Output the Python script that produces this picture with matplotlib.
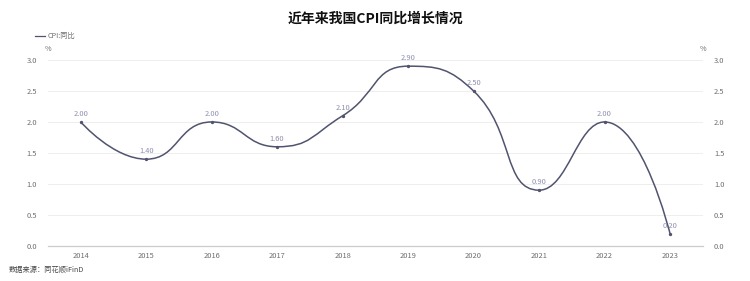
import numpy as np
import matplotlib.pyplot as plt
from matplotlib.path import Path
from matplotlib.patches import PathPatch

plt.rcParams['font.family'] = ['Noto Sans CJK SC', 'DejaVu Sans']

# Data
years = ['2014', '2015', '2016', '2017', '2018', '2019', '2020', '2021', '2022', '2023']
cpi = [2.00, 1.40, 2.00, 1.60, 2.10, 2.90, 2.50, 0.90, 2.00, 0.20]
yticks = [0.0, 0.5, 1.0, 1.5, 2.0, 2.5, 3.0]

lineColor = '#50546e'
labelColor = '#8d90b0'
tickColor = '#6e6e6e'
gridColor = '#eeeeee'


def clamp(v, a, b):
    return np.minimum(np.maximum(v, np.minimum(a, b)), np.maximum(a, b))


def smoothPath(ax, xs, ys, smooth=0.5):
    # Bezier control points in pixel space, constrained like echarts 5 smooth lines
    pts = ax.transData.transform(np.column_stack([xs, ys]))
    n = len(pts)
    cpIn = [pts[0]] * n
    cpOut = [pts[0]] * n
    for i in range(n):
        p = pts[i]
        if i == 0 or i == n - 1:
            cpIn[i] = p
            cpOut[i] = p
            continue
        prev, nxt = pts[i - 1], pts[i + 1]
        v = nxt - prev
        lenPrev = np.hypot(*(p - prev))
        lenNext = np.hypot(*(nxt - p))
        ratio = lenNext / (lenNext + lenPrev)
        c1 = p + v * smooth * ratio
        c1 = clamp(c1, nxt, p)
        c0 = p - (c1 - p) * lenPrev / lenNext
        c0 = clamp(c0, prev, p)
        c1 = p + (p - c0) * lenNext / lenPrev
        cpIn[i] = c0
        cpOut[i] = c1
    verts = [pts[0]]
    codes = [Path.MOVETO]
    for i in range(n - 1):
        verts += [cpOut[i], cpIn[i + 1], pts[i + 1]]
        codes += [Path.CURVE4] * 3
    verts = ax.transData.inverted().transform(np.array(verts))
    return Path(verts, codes)


fig = plt.figure(figsize=(7.5, 2.81), dpi=100)
ax = fig.add_axes([0.064, 0.1246, 0.873, 0.662])

x = np.arange(len(years))
ax.set_xlim(-0.5, len(years) - 0.5)
ax.set_ylim(0, 3.0)

ax.add_patch(PathPatch(smoothPath(ax, x, cpi), facecolor='none', edgecolor=lineColor, linewidth=1.1))
ax.plot(x, cpi, 'o', color=lineColor, markersize=1.4)

for xi, v in zip(x, cpi):
    ax.text(xi, v + 0.06, f'{v:.2f}', ha='center', va='bottom', fontsize=5.4, color=labelColor)

ax.set_yticks(yticks)
ax.set_yticklabels([f'{t:.1f}' for t in yticks])
ax.set_xticks(x)
ax.set_xticklabels(years)
ax.grid(axis='y', color=gridColor, linewidth=0.7)
ax.set_axisbelow(True)

for s in ['top', 'left', 'right']:
    ax.spines[s].set_visible(False)
ax.spines['bottom'].set_color('#cccccc')
ax.spines['bottom'].set_linewidth(0.9)

ax.tick_params(axis='x', length=0, labelsize=5.4, labelcolor=tickColor, pad=4)
ax.tick_params(axis='y', length=0, labelsize=5.4, labelcolor=tickColor, pad=8)

ax2 = ax.twinx()
ax2.set_ylim(0, 3.0)
ax2.set_yticks(yticks)
ax2.set_yticklabels([f'{t:.1f}' for t in yticks])
ax2.tick_params(axis='y', length=0, labelsize=5.4, labelcolor=tickColor, pad=8)
for s in ax2.spines.values():
    s.set_visible(False)

ax.text(-0.5, 3.12, '%', ha='center', va='bottom', fontsize=5.2, color=tickColor)
ax.text(len(years) - 0.5, 3.12, '%', ha='center', va='bottom', fontsize=5.2, color=tickColor)

fig.text(0.5, 0.935, '近年来我国CPI同比增长情况', ha='center', va='center',
         fontsize=10, fontweight='bold', color='#111111')

# Legend
fig.lines.append(plt.Line2D([0.046, 0.060], [0.872, 0.872], transform=fig.transFigure,
                            color=lineColor, linewidth=0.9))
fig.text(0.063, 0.872, 'CPI:同比', ha='left', va='center', fontsize=5.2, color=tickColor)

fig.text(0.011, 0.04, '数据来源：同花顺iFinD', ha='left', va='center', fontsize=5.2, color='#444444')

fig.savefig('out.png', dpi=100, facecolor='white')
